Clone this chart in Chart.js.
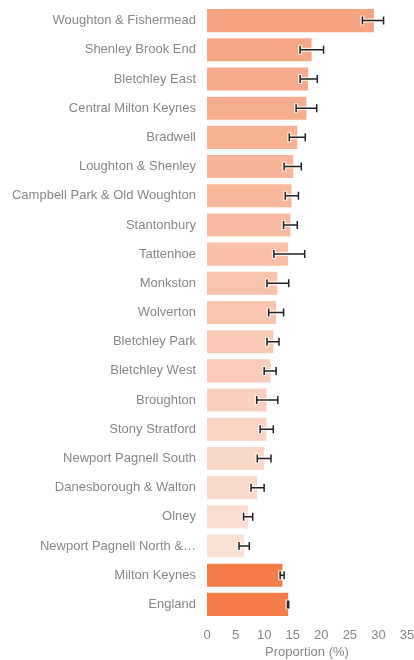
<!DOCTYPE html>
<html><head><meta charset="utf-8">
<script src="https://cdn.jsdelivr.net/npm/chart.js@4"></script>
<style>html,body{margin:0;padding:0;background:#fff;}#wrap{width:414px;height:660px;position:relative;}</style>
</head><body><div id="wrap"><canvas id="c"></canvas></div>
<script>
const categories = ["Woughton & Fishermead","Shenley Brook End","Bletchley East","Central Milton Keynes","Bradwell","Loughton & Shenley","Campbell Park & Old Woughton","Stantonbury","Tattenhoe","Monkston","Wolverton","Bletchley Park","Bletchley West","Broughton","Stony Stratford","Newport Pagnell South","Danesborough & Walton","Olney","Newport Pagnell North &…","Milton Keynes","England"];
const values = [29.2,18.3,17.7,17.4,15.8,15.1,14.8,14.6,14.2,12.3,12.1,11.6,11.1,10.4,10.4,10.0,8.8,7.2,6.5,13.2,14.2];
const lowerCI = [27.2,16.3,16.3,15.6,14.4,13.5,13.7,13.4,11.7,10.5,10.8,10.5,10.0,8.7,9.3,8.8,7.7,6.4,5.6,12.8,14.1];
const upperCI = [30.9,20.4,19.3,19.2,17.2,16.5,16.0,15.8,17.1,14.3,13.4,12.6,12.1,12.4,11.6,11.2,10.0,8.0,7.4,13.5,14.3];
const areaType = ["ward","ward","ward","ward","ward","ward","ward","ward","ward","ward","ward","ward","ward","ward","ward","ward","ward","ward","ward","district","country"];
const xTicks = [0,5,10,15,20,25,30,35];

const dark=[245,163,128], light=[252,225,213];
const nWard = areaType.filter(t=>t==="ward").length;
const colors = areaType.map((t,i)=>{
  if(t!=="ward") return "#F47C49";
  const f = i/(nWard-1);
  const c = dark.map((d,k)=>Math.round(d+(light[k]-d)*f));
  return `rgb(${c[0]},${c[1]},${c[2]})`;
});

const errPlugin = {
  id:'err',
  afterDatasetsDraw(chart){
    const ctx=chart.ctx, xs=chart.scales.x;
    const meta=chart.getDatasetMeta(0);
    meta.data.forEach((bar,i)=>{
      const y=bar.y, x1=xs.getPixelForValue(lowerCI[i]), x2=xs.getPixelForValue(upperCI[i]);
      const h=4;
      ctx.save();
      ctx.lineCap='butt';
      ctx.strokeStyle='rgba(255,255,255,0.8)';ctx.lineWidth=4;
      ctx.beginPath();ctx.moveTo(x1,y);ctx.lineTo(x2,y);ctx.moveTo(x1,y-h-1);ctx.lineTo(x1,y+h+1);ctx.moveTo(x2,y-h-1);ctx.lineTo(x2,y+h+1);ctx.stroke();
      ctx.strokeStyle='#222';ctx.lineWidth=1.5;
      ctx.beginPath();ctx.moveTo(x1,y);ctx.lineTo(x2,y);ctx.moveTo(x1,y-h);ctx.lineTo(x1,y+h);ctx.moveTo(x2,y-h);ctx.lineTo(x2,y+h);ctx.stroke();
      ctx.restore();
    });
  }
};

const font = {family:'Liberation Sans, Arial, sans-serif',size:13};
new Chart(document.getElementById('c'),{
  type:'bar',
  data:{labels:categories,datasets:[{data:values,backgroundColor:colors,borderWidth:0,barPercentage:0.79,categoryPercentage:1}]},
  options:{
    indexAxis:'y',responsive:true,maintainAspectRatio:false,animation:false,
    layout:{padding:{top:6,right:7,left:0,bottom:0}},
    plugins:{legend:{display:false},tooltip:{enabled:false}},
    scales:{
      x:{min:0,max:35,afterBuildTicks(s){s.ticks=xTicks.map(v=>({value:v}));},
        afterFit(s){s.height=41;s.paddingLeft=0;s.paddingRight=0;},
        grid:{display:false,drawTicks:false},border:{display:false},
        ticks:{color:'#888',font:font,padding:9},
        title:{display:true,text:'Proportion (%)',color:'#888',font:font,padding:{top:3,bottom:0}}},
      y:{grid:{display:false,drawTicks:false},border:{display:false},
        afterFit(s){s.width=207;s.paddingTop=0;s.paddingBottom=0;},
        ticks:{color:'#888',font:font,padding:11}}
    }
  },
  plugins:[errPlugin]
});
</script></body></html>
